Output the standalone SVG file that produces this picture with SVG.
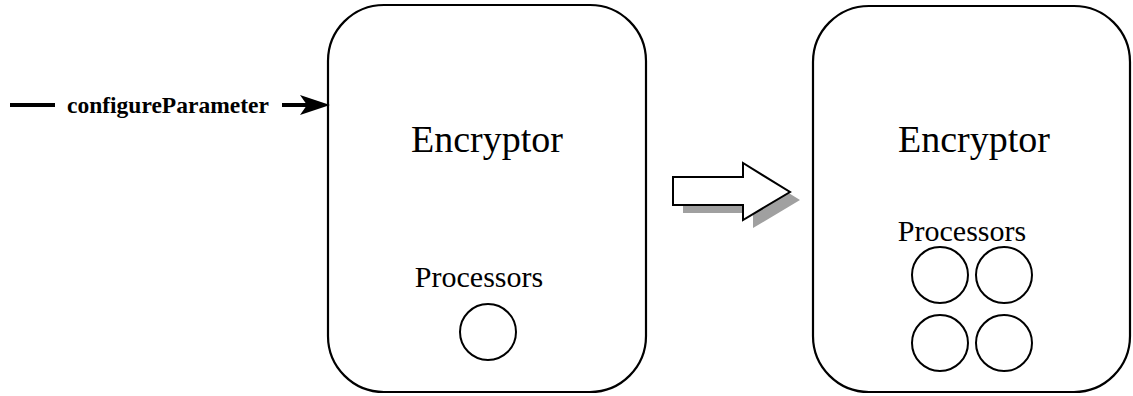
<svg xmlns="http://www.w3.org/2000/svg" width="1133" height="396" viewBox="0 0 1133 396">
<style>
.box{fill:#fff;stroke:#000;stroke-width:2.2}
.proc{fill:#fff;stroke:#000;stroke-width:2}
.title{font-family:"Liberation Serif",serif;font-size:38px;fill:#000;text-anchor:middle}
.label{font-family:"Liberation Serif",serif;font-size:30px;fill:#000;text-anchor:middle}
.edge{font-family:"Liberation Serif",serif;font-size:23.5px;font-weight:bold;fill:#000}
</style>
<rect width="1133" height="396" fill="#fff"/>
<g id="encryptor-before">
  <rect class="box" x="328" y="5" width="318" height="387" rx="56" ry="56"/>
  <text class="title" x="487" y="152">Encryptor</text>
  <text class="label" x="479" y="287">Processors</text>
  <circle class="proc" cx="488" cy="332" r="28"/>
</g>
<g id="encryptor-after">
  <rect class="box" x="813" y="6" width="317" height="386" rx="56" ry="56"/>
  <text class="title" x="974" y="152">Encryptor</text>
  <text class="label" x="962" y="241">Processors</text>
  <circle class="proc" cx="940" cy="275" r="28"/>
  <circle class="proc" cx="1004" cy="275" r="28"/>
  <circle class="proc" cx="940" cy="343" r="28"/>
  <circle class="proc" cx="1004" cy="343" r="28"/>
</g>
<g id="transition-arrow">
  <path d="M683,185 H753 V171 L800,200 L753,228 V213 H683 Z" fill="#a0a0a0"/>
  <path d="M673,177 H743 V163 L790,192 L743,220 V205 H673 Z" fill="#fff" stroke="#000" stroke-width="2"/>
</g>
<g id="connectors">
  <line x1="10" y1="105" x2="55" y2="105" stroke="#000" stroke-width="4"/>
  <text class="edge" x="67" y="113">configureParameter</text>
  <line x1="282" y1="105" x2="310" y2="105" stroke="#000" stroke-width="4"/>
  <path d="M330,105 L300,95 L307,105 L300,115 Z" fill="#000"/>
</g>
</svg>
